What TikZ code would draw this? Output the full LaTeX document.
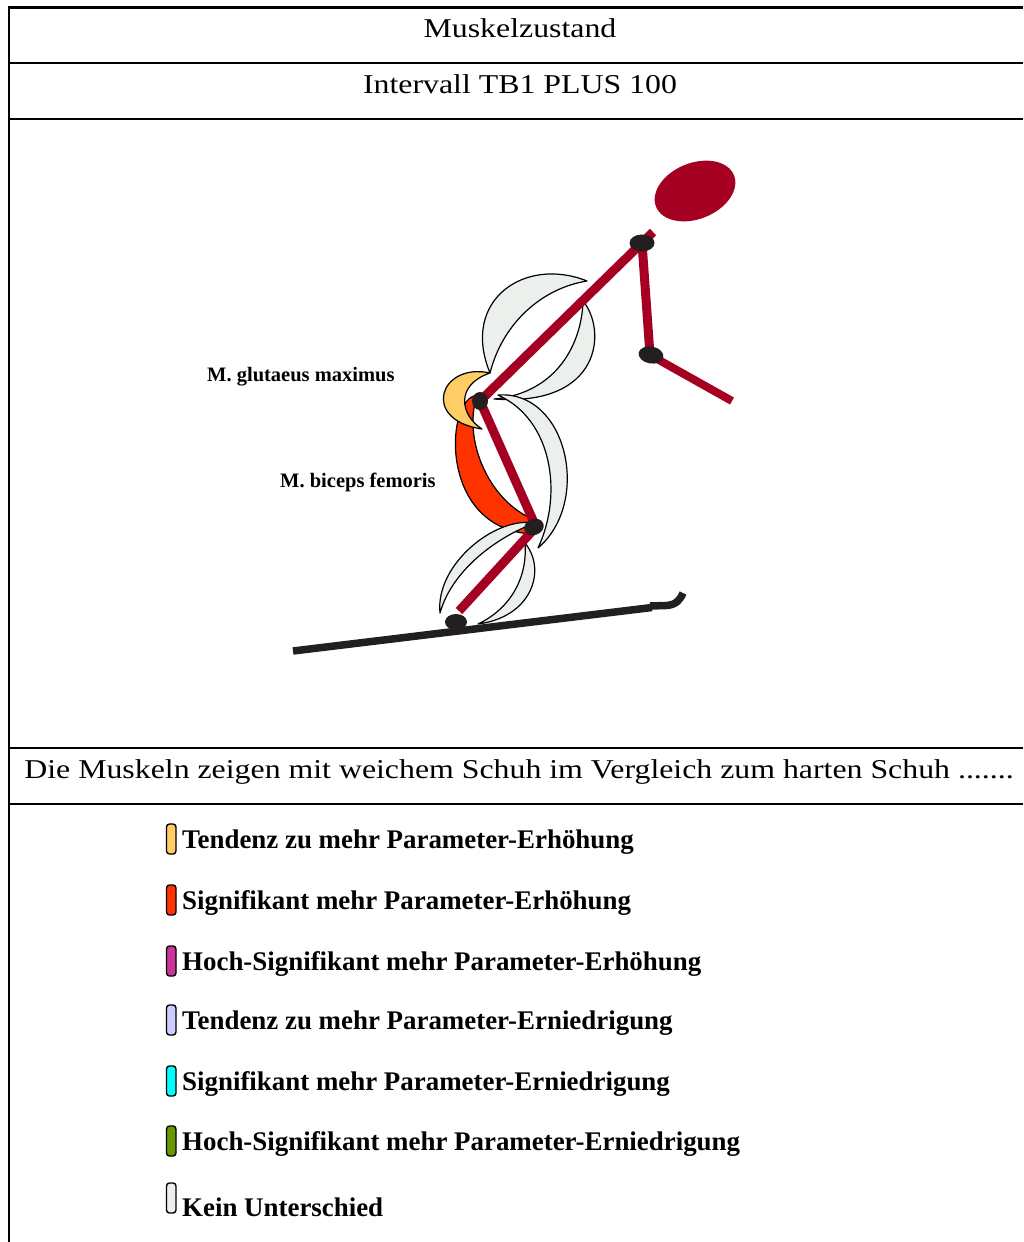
\documentclass[tikz,border=0pt]{standalone}
\usepackage{fontspec}
\setmainfont{Liberation Serif}
\newfontfamily\titlefont[FakeStretch=1.17]{Liberation Serif}
\definecolor{bodyred}{RGB}{165,0,33}
\definecolor{jointblack}{RGB}{35,31,32}
\definecolor{nodiff}{RGB}{235,240,236}
\definecolor{tendup}{RGB}{255,204,102}
\definecolor{sigup}{RGB}{255,51,0}
\definecolor{hsigup}{RGB}{204,51,153}
\definecolor{tenddown}{RGB}{204,204,255}
\definecolor{sigdown}{RGB}{0,255,255}
\definecolor{hsigdown}{RGB}{102,153,0}
\begin{document}
\begin{tikzpicture}[x=1pt,y=-1pt,
  rule/.style={draw=black,line width=2.4pt},
  celltext/.style={anchor=base,inner sep=0pt,font=\titlefont\fontsize{27.2}{32}\selectfont},
  musclelabel/.style={anchor=base west,inner sep=0pt,font=\bfseries\fontsize{20.5}{24}\selectfont},
  legendtext/.style={anchor=base west,inner sep=0pt,font=\bfseries\fontsize{26.9}{32}\selectfont},
  swatch/.style={draw=black,line width=1.4pt,rounded corners=3pt},
  muscle/.style={draw=black,line width=1.2pt,line join=round},
  bone/.style={draw=bodyred,line width=9pt},
  joint/.style={fill=jointblack},
  ski/.style={draw=jointblack,line width=7.5pt}]
\useasboundingbox (0,0) rectangle (1023,1242);

% table rules
\draw[rule] (9,7.5) -- (1023,7.5);
\draw[rule] (9,63) -- (1023,63);
\draw[rule] (9,119) -- (1023,119);
\draw[rule] (9,748) -- (1023,748);
\draw[rule] (9,804) -- (1023,804);
\draw[draw=black,line width=2pt] (9,6.3) -- (9,1242);

% cell texts
\node[celltext] (title) at (520,37) {Muskelzustand};
\node[celltext] (interval) at (520,93) {Intervall TB1 PLUS 100};
\node[celltext] (caption) at (519,778) {Die Muskeln zeigen mit weichem Schuh im Vergleich zum harten Schuh .......};

% muscles of the trunk (behind the trunk line)
\path[muscle,fill=nodiff] (587,281) .. controls (525,256) and (460,300) .. (490,373)
   .. controls (503,322) and (543,288) .. (587,281) -- cycle;
\path[muscle,fill=nodiff] (583,301) .. controls (607,330) and (602,407) .. (494,399)
   .. controls (558,393) and (582,342) .. (583,301) -- cycle;

% M. biceps femoris
\path[muscle,fill=sigup] (474,396) .. controls (445,405) and (440,530) .. (533,534)
   -- (538,521) .. controls (490,505) and (462,440) .. (477,396) -- cycle;
% M. glutaeus maximus
\path[muscle,fill=tendup] (490,373) .. controls (440,362) and (420,420) .. (482,429)
   .. controls (460,415) and (455,385) .. (490,373) -- cycle;
% front of the thigh
\path[muscle,fill=nodiff] (498,395) .. controls (567,390) and (592,502) .. (538,548)
   .. controls (563,495) and (553,420) .. (498,395) -- cycle;
% lower leg
\path[muscle,fill=nodiff] (535,523) .. controls (495,516) and (435,565) .. (440,613)
   .. controls (452,570) and (497,537) .. (535,523) -- cycle;
\path[muscle,fill=nodiff] (525,543) .. controls (547,570) and (532,617) .. (478,624)
   .. controls (508,610) and (528,580) .. (525,543) -- cycle;

% ski
\draw[ski] (293,651) -- (652,607.5);
\draw[ski] (650,606) -- (666,605.5) .. controls (676,605) and (680,600) .. (683,593);

% body
\fill[bodyred,rotate around={22:(695,191)}] (695,191) ellipse [x radius=42pt,y radius=28pt];
\draw[bone] (480,401) -- (653,232);
\draw[bone] (642,243) -- (650,355);
\draw[bone,line width=8pt] (650,355) -- (732,401);
\draw[bone] (480,401) -- (536,527);
\draw[bone] (536,527) -- (459,611);

% joints
\fill[joint] (642,243) ellipse [x radius=12.5pt,y radius=8.5pt];
\fill[joint,rotate around={-10:(651,355)}] (651,355) ellipse [x radius=12.5pt,y radius=8.5pt];
\fill[joint] (480,401) ellipse [x radius=8pt,y radius=9pt];
\fill[joint,rotate around={20:(534,527)}] (534,527) ellipse [x radius=10pt,y radius=8pt];
\fill[joint] (456,622) ellipse [x radius=11pt,y radius=8pt];

% muscle labels
\node[musclelabel] (glut) at (207,381) {M. glutaeus maximus};
\node[musclelabel] (bic) at (280,487) {M. biceps femoris};

% legend
\foreach \c/\t/\b/\s [count=\i] in {
  tendup/Tendenz zu mehr Parameter-Erhöhung/848/824,
  sigup/Signifikant mehr Parameter-Erhöhung/909/885,
  hsigup/Hoch-Signifikant mehr Parameter-Erhöhung/970/946,
  tenddown/Tendenz zu mehr Parameter-Erniedrigung/1029/1005,
  sigdown/Signifikant mehr Parameter-Erniedrigung/1090/1066,
  hsigdown/Hoch-Signifikant mehr Parameter-Erniedrigung/1150/1126,
  nodiff/Kein Unterschied/1216/1183}
{
  \draw[swatch,fill=\c] (166.5,\s) rectangle (176,\s+30);
  \node[legendtext] (leg\i) at (182,\b) {\t};
}
\end{tikzpicture}
\end{document}
